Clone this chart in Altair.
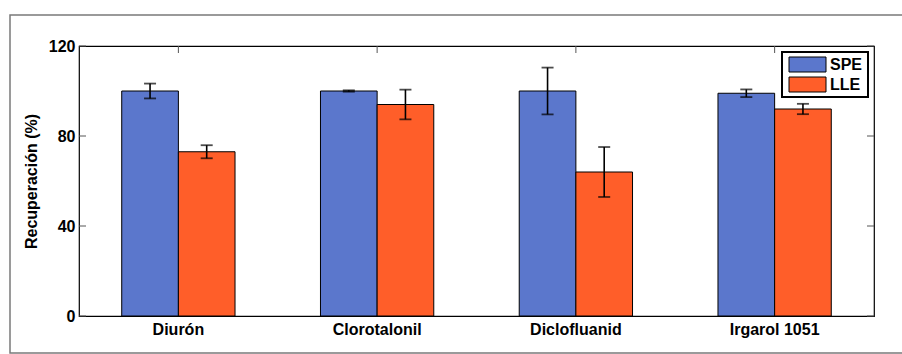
import altair as alt
import pandas as pd

# Recovery (%) of each antifouling compound by extraction method
compounds = ["Diurón", "Clorotalonil", "Diclofluanid", "Irgarol 1051"]
methods = ["SPE", "LLE"]
spe_mean = [100, 100, 100, 99]
spe_err = [3.3, 0.3, 10.4, 1.7]
lle_mean = [73, 94, 64, 92]
lle_err = [2.9, 6.6, 11.1, 2.3]
y_ticks = [0, 40, 80, 120]

colors = ["#5B77CC", "#FF5E29"]
FONT = "Liberation Sans"
FS = 16

rows = []
for i, c in enumerate(compounds):
    rows.append({"compound": c, "method": "SPE", "value": spe_mean[i],
                 "lo": spe_mean[i] - spe_err[i], "hi": spe_mean[i] + spe_err[i]})
    rows.append({"compound": c, "method": "LLE", "value": lle_mean[i],
                 "lo": lle_mean[i] - lle_err[i], "hi": lle_mean[i] + lle_err[i]})
df = pd.DataFrame(rows)
ticks_df = pd.DataFrame({"t": y_ticks})
cat_df = pd.DataFrame({"compound": compounds})
method_df = pd.DataFrame({"method": methods})
one_df = pd.DataFrame({"k": [0]})

W, H = 795, 270

x_enc = alt.X(
    "compound:N", sort=compounds,
    scale=alt.Scale(paddingInner=0.43, paddingOuter=0.215),
    axis=alt.Axis(title=None, labelAngle=0, ticks=False, domain=False,
                  labelFont=FONT, labelFontSize=FS, labelFontWeight="bold",
                  labelColor="black", labelPadding=5),
)
off_enc = alt.XOffset("method:N", sort=methods,
                      scale=alt.Scale(paddingInner=0, paddingOuter=0))
y_scale = alt.Scale(domain=[0, 120], nice=False, zero=True)
color_scale = alt.Scale(domain=methods, range=colors)

bars = alt.Chart(df).mark_bar(stroke="black", strokeWidth=1, opacity=1).encode(
    x=x_enc,
    xOffset=off_enc,
    y=alt.Y("value:Q", scale=y_scale,
            axis=alt.Axis(values=y_ticks, ticks=False, domain=False, grid=False,
                          title="Recuperación (%)", titleFont=FONT,
                          titleFontSize=FS, titleFontWeight="bold",
                          titleColor="black", titlePadding=9,
                          labelFont=FONT, labelFontSize=FS,
                          labelFontWeight="bold", labelColor="black",
                          labelPadding=4)),
    color=alt.Color("method:N", sort=methods, scale=color_scale, legend=None),
)

err_rule = alt.Chart(df).mark_rule(color="black", strokeWidth=1.6).encode(
    x=x_enc, xOffset=off_enc,
    y=alt.Y("lo:Q", scale=y_scale), y2="hi:Q",
)
cap_lo = alt.Chart(df).mark_tick(color="black", size=12, thickness=1.8).encode(
    x=x_enc, xOffset=off_enc, y=alt.Y("lo:Q", scale=y_scale),
)
cap_hi = alt.Chart(df).mark_tick(color="black", size=12, thickness=1.8).encode(
    x=x_enc, xOffset=off_enc, y=alt.Y("hi:Q", scale=y_scale),
)

# inward-pointing tick marks on the boxed frame
tick_left = alt.Chart(ticks_df).mark_rule(color="#555", strokeWidth=1).encode(
    y=alt.Y("t:Q", scale=y_scale), x=alt.value(0), x2=alt.value(7),
)
tick_right = alt.Chart(ticks_df).mark_rule(color="#555", strokeWidth=1).encode(
    y=alt.Y("t:Q", scale=y_scale), x=alt.value(W - 7), x2=alt.value(W),
)
tick_top = alt.Chart(cat_df).mark_rule(color="#555", strokeWidth=1).encode(
    x=x_enc, y=alt.value(0), y2=alt.value(7),
)

# thin grey border around the whole figure
frame = alt.Chart(one_df).mark_rect(fill=None, stroke="#7a7a7a",
                                    strokeWidth=1.5).encode(
    x=alt.value(-69), x2=alt.value(840), y=alt.value(-31), y2=alt.value(307),
)

# legend box in the upper-right corner
legend_box = alt.Chart(one_df).mark_rect(fill="white", stroke="black",
                                         strokeWidth=2).encode(
    x=alt.value(703), x2=alt.value(789), y=alt.value(6), y2=alt.value(51),
)
legend_layers = [legend_box]
for i, m in enumerate(methods):
    top = 11 + 20 * i
    legend_layers.append(
        alt.Chart(method_df).transform_filter(alt.datum.method == m)
        .mark_rect(stroke="black", strokeWidth=1).encode(
            color=alt.Color("method:N", scale=color_scale, legend=None),
            x=alt.value(710), x2=alt.value(747),
            y=alt.value(top), y2=alt.value(top + 15),
        )
    )
    legend_layers.append(
        alt.Chart(method_df).transform_filter(alt.datum.method == m)
        .mark_text(font=FONT, fontSize=FS, fontWeight="bold", color="black",
                   align="left", baseline="middle").encode(
            text="method:N",
            x=alt.value(751), y=alt.value(top + 8),
        )
    )

chart = alt.layer(frame, bars, err_rule, cap_lo, cap_hi,
                  tick_left, tick_right, tick_top, *legend_layers).properties(
    width=W, height=H,
    autosize=alt.AutoSizeParams(type="none"),
    padding={"left": 79, "top": 46, "right": 28, "bottom": 38},
    background="white",
).configure_view(
    stroke="black", strokeWidth=1.2,
)

chart.save("out.html", embed_options={"renderer": "svg", "actions": False})
